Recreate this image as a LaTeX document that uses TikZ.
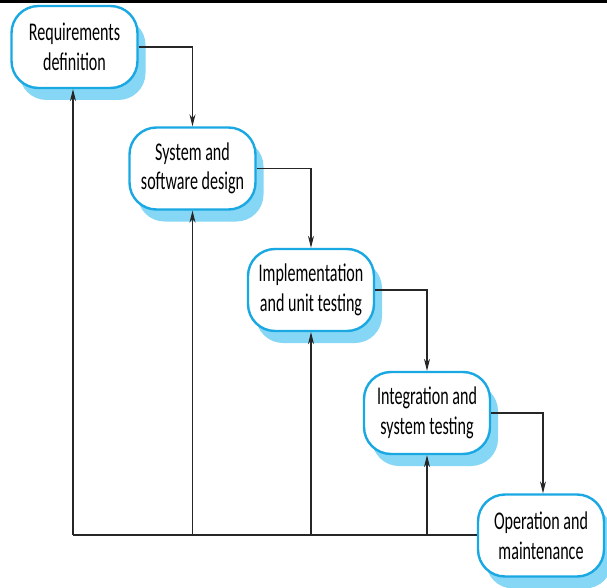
\documentclass[tikz,border=0pt]{standalone}
\usepackage{fontspec}
\setmainfont{Carlito}[FakeStretch=0.63]
\usetikzlibrary{arrows.meta}
\definecolor{phaseedge}{HTML}{1AA8E2}
\definecolor{phaseshade}{HTML}{86D6F6}
\tikzset{
  phase/.style={draw=phaseedge, line width=2.4pt, fill=white, rounded corners=27pt,
    minimum width=126pt, minimum height=82pt, align=center, inner sep=0pt,
    font=\fontsize{25.5}{29.5}\selectfont},
  shade/.style={fill=phaseshade, rounded corners=27pt},
  flow/.style={draw=black!85, line width=1.1pt, -{Stealth[length=12pt,width=6pt]}},
  link/.style={draw=black!85, line width=1.1pt}
}
\begin{document}
\begin{tikzpicture}[x=1pt,y=-1pt]
  \useasboundingbox (0,0) rectangle (607,588);
  \fill[black] (0,0) rectangle (607,3);
  % drop shadows behind the phase boxes
  \foreach \cx/\cy in {74.5/47, 192.5/168.5, 311/290, 427/413, 541/535.5}{
    \fill[shade] (\cx-63+8,\cy-41+12) rectangle (\cx+63+8,\cy+41+12);
  }
  % junction of the feedback lines
  \coordinate (base) at (73,535);
  \node[phase] (req) at (74.5,47) {Requirements\\definition};
  \node[phase] (des) at (192.5,168.5) {System and\\software design};
  \node[phase] (imp) at (311,290) {Implementation\\and unit testing};
  \node[phase] (int) at (427,413) {Integration and\\system testing};
  \node[phase] (ops) at (541,535.5) {Operation and\\maintenance};
  % forward flow
  \draw[flow] (req.east) -| (des.north);
  \draw[flow] (des.east) -| (imp.north);
  \draw[flow] (imp.east) -| (int.north);
  \draw[flow] (int.east) -| ([xshift=2pt]ops.north);
  % feedback
  \draw[link] (ops.west |- base) -- (base);
  \draw[flow] (base) -- ([xshift=-1.5pt]req.south);
  \draw[flow] (des.south |- base) -- (des.south);
  \draw[flow] (imp.south |- base) -- (imp.south);
  \draw[flow] (int.south |- base) -- (int.south);
\end{tikzpicture}
\end{document}
